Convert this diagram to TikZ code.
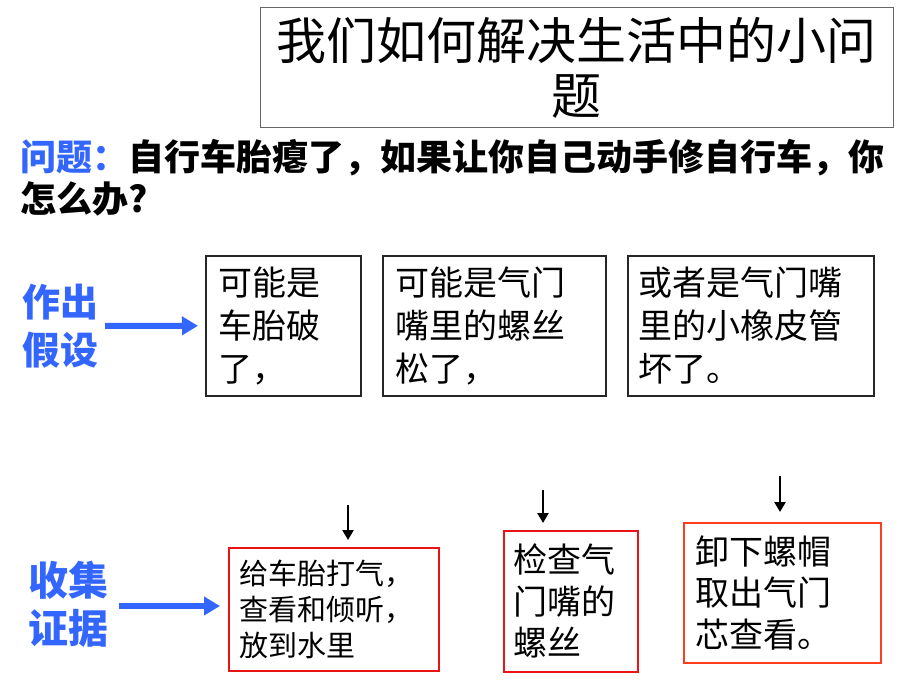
\documentclass[tikz,border=0pt]{standalone}
\usepackage{fontspec}
\setmainfont{Noto Sans CJK SC}
\newfontfamily\cjk{Noto Sans CJK SC}
\usetikzlibrary{arrows.meta}
\definecolor{myblue}{RGB}{51,102,255}
\definecolor{myred}{RGB}{235,20,20}
\definecolor{myorange}{RGB}{255,60,30}
\begin{document}
\begin{tikzpicture}[x=1pt,y=-1pt,
  hyp/.style={draw=black!85, line width=1.6pt, rectangle, anchor=north west, align=left, minimum height=140pt, inner ysep=0pt, font=\cjk\fontsize{34}{43}\selectfont},
  evid/.style={draw=myred, line width=1.6pt, rectangle, anchor=north west, align=left, inner ysep=0pt, font=\cjk\fontsize{34}{41.5}\selectfont},
  bluelab/.style={text=myblue, font=\cjk\bfseries\fontsize{38}{48}\selectfont, align=center, inner sep=0pt},
  bluearrow/.style={draw=myblue, line width=6pt, -{Triangle[length=16pt,width=18pt]}},
  blackarrow/.style={draw=black, line width=2.6pt, -{Triangle[length=10pt,width=11pt]}}
]
\useasboundingbox[fill=white] (0,0) rectangle (920,690);

% title
\node[draw=black!60, line width=1pt, minimum width=633pt, minimum height=119pt, inner sep=0pt, align=center, font=\cjk\fontsize{50}{55}\selectfont] (title) at (576.5,67.5) {我们如何解决生活中的小问\\题};

% question
\node[anchor=west, inner sep=0pt, align=left, font=\cjk\bfseries\fontsize{36}{42}\selectfont] (question) at (20,178)
  {\textcolor{myblue}{问题：}自行车胎瘪了，如果让你自己动手修自行车，你\\怎么办?};

% hypotheses
\node[bluelab] (hyplab) at (60,326) {作出\\假设};
\node[hyp, inner xsep=13pt, text width=129pt] (h1) at (205,255) {可能是\\车胎破\\了，};
\node[hyp, inner xsep=13pt, text width=197pt] (h2) at (382,255) {可能是气门\\嘴里的螺丝\\松了，};
\node[hyp, inner xsep=11pt, text width=224pt] (h3) at (627,255) {或者是气门嘴\\里的小橡皮管\\坏了。};
\draw[bluearrow, shorten <=7pt, shorten >=7pt] (hyplab.east) -- (h1.west);

% evidence
\node[bluelab, font=\cjk\bfseries\fontsize{40}{48}\selectfont] (evlab) at (68,604) {收集\\证据};
\node[evid, inner xsep=11pt, text width=188pt, minimum height=123pt, font=\cjk\fontsize{29}{36}\selectfont] (r1) at (228,547) {给车胎打气，\\查看和倾听，\\放到水里};
\node[evid, inner xsep=10pt, text width=114pt, minimum height=141pt] (r2) at (503,530) {检查气\\门嘴的\\螺丝};
\node[evid, draw=myorange, inner xsep=12pt, text width=173pt, minimum height=140pt] (r3) at (683,522) {卸下螺帽\\取出气门\\芯查看。};
\coordinate (e1a) at (119,606);
\coordinate (e1b) at (220,606);
\draw[bluearrow] (e1a) -- (e1b);

\coordinate (a1s) at (348,505);
\coordinate (a1e) at (348,540);
\coordinate (a2s) at (543,490);
\coordinate (a2e) at (543,523);
\coordinate (a3s) at (780,476);
\coordinate (a3e) at (780,512);
\draw[blackarrow] (a1s) -- (a1e);
\draw[blackarrow] (a2s) -- (a2e);
\draw[blackarrow] (a3s) -- (a3e);
\end{tikzpicture}
\end{document}
